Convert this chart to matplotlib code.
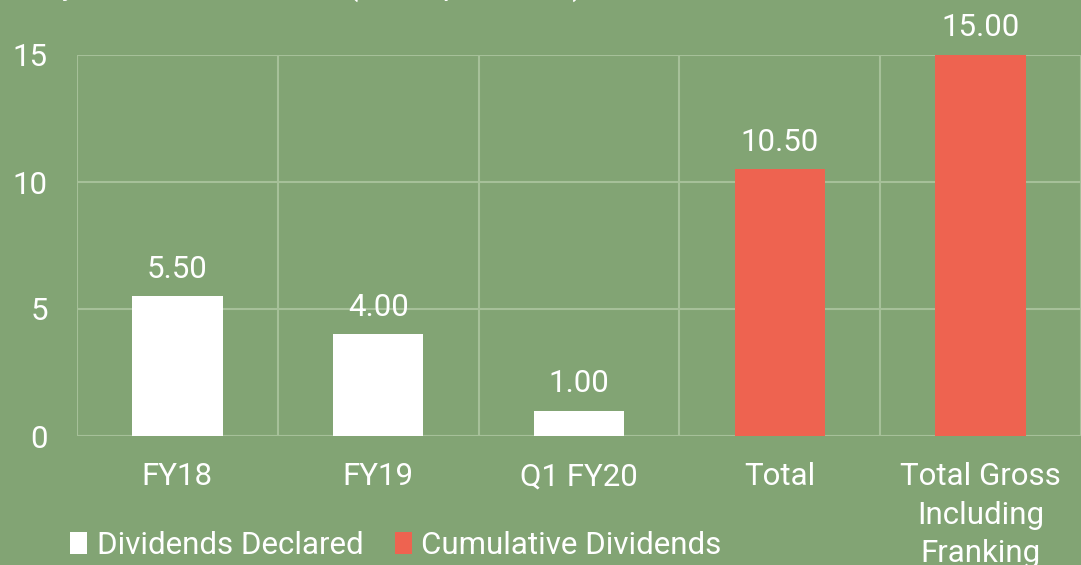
import matplotlib
matplotlib.use("Agg")
import matplotlib.pyplot as plt
from matplotlib import font_manager
from matplotlib.patches import Patch

categories = ["FY18", "FY19", "Q1 FY20", "Total", "Total Gross\nIncluding\nFranking"]
declared = [5.50, 4.00, 1.00, None, None]
cumulative = [None, None, None, 10.50, 15.00]
yticks = [0, 5, 10, 15]
title = "Fully Franked Dividends (cents per share)"

names = {f.name for f in font_manager.fontManager.ttflist}
fam = "Liberation Sans Narrow" if "Liberation Sans Narrow" in names else "Roboto"
plt.rcParams['font.family'] = [fam, "DejaVu Sans"]
W = "normal"

BG = "#82A474"
RED = "#EE6350"
GRID = "#A6C099"
FS = 22.5

fig = plt.figure(figsize=(10.81, 5.65), dpi=100, facecolor=BG)
ax = fig.add_axes([77/1081, 1 - 436/565, 1 - 77/1081, (436 - 55)/565])
ax.set_facecolor(BG)

x = list(range(len(categories)))
w = 0.45
for i, v in enumerate(declared):
    if v is not None:
        ax.bar(i, v, width=w, color="white", zorder=3)
        ax.text(i, v + 0.5, f"{v:.2f}", ha="center", va="bottom", color="white",
                fontsize=FS, fontweight=W, clip_on=False)
for i, v in enumerate(cumulative):
    if v is not None:
        ax.bar(i, v, width=w, color=RED, zorder=3)
        ax.text(i, v + 0.5, f"{v:.2f}", ha="center", va="bottom", color="white",
                fontsize=FS, fontweight=W, clip_on=False)

ax.set_xlim(-0.5, len(categories) - 0.5)
ax.set_ylim(0, 15)
ax.set_yticks(yticks)
ax.set_yticklabels([str(t) for t in yticks], fontsize=FS, color="white", fontweight=W)
ax.set_xticks(x)
ax.set_xticklabels(categories, fontsize=FS, color="white", linespacing=1.4, fontweight=W)
ax.set_xticks([i + 0.5 for i in range(-1, len(categories))], minor=True)
ax.tick_params(axis="both", which="both", length=0)
ax.tick_params(axis="y", pad=21)
ax.tick_params(axis="x", pad=19)
ax.grid(axis="y", which="major", color=GRID, linewidth=1.5, zorder=0)
ax.grid(axis="x", which="minor", color=GRID, linewidth=1.5, zorder=0)
for s in ax.spines.values():
    s.set_visible(False)
ax.axhline(0, color=GRID, linewidth=1.5, zorder=1)

fig.text(12/1081, 1.0 + 5/565, title, ha="left", va="baseline", color="white",
         fontsize=FS, fontweight=W)

handles = [Patch(facecolor="white", label="Dividends Declared"),
           Patch(facecolor=RED, label="Cumulative Dividends")]
leg = fig.legend(handles=handles, loc="center left", bbox_to_anchor=(42/1081, 1 - 545/565),
                 ncol=2, frameon=False, labelcolor="white",
                 prop={"weight": W, "size": FS},
                 handlelength=0.55, handleheight=0.7, handletextpad=0.3, columnspacing=1.0)

fig.savefig("out.png", dpi=100, facecolor=BG)
